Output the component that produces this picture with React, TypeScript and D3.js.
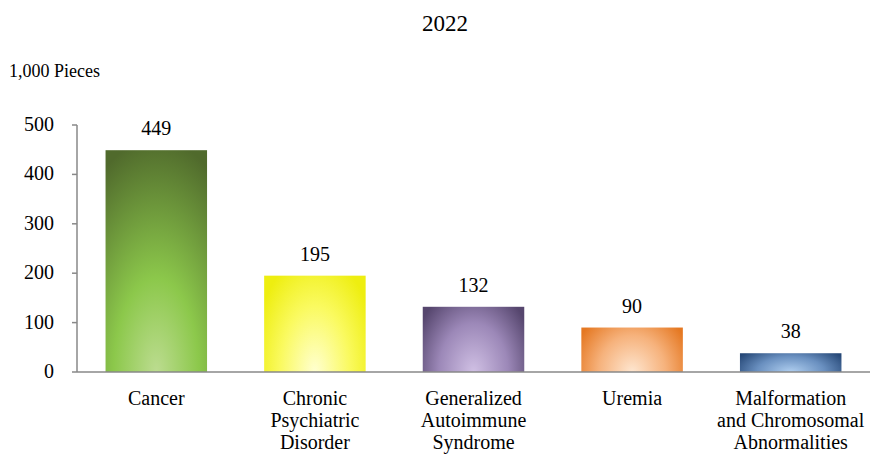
import React from "react";
import * as d3 from "d3";

const categories: string[][] = [
  ["Cancer"],
  ["Chronic", "Psychiatric", "Disorder"],
  ["Generalized", "Autoimmune", "Syndrome"],
  ["Uremia"],
  ["Malformation", "and Chromosomal", "Abnormalities"],
];
const values = [449, 195, 132, 90, 38];
const yTicks = [0, 100, 200, 300, 400, 500];
const gradients = [
  { stops: [["0%", "#bcdc90"], ["40%", "#8cc84b"], ["100%", "#506a2c"]], r: "1.05", sy: 1 },
  { stops: [["0%", "#ffffd0"], ["55%", "#fafa60"], ["100%", "#eeee10"]], r: "0.62", sy: 2 },
  { stops: [["0%", "#d0c0e4"], ["55%", "#9c88b8"], ["100%", "#56466e"]], r: "0.62", sy: 2.2 },
  { stops: [["0%", "#fee6d0"], ["55%", "#f6b27c"], ["100%", "#e57822"]], r: "0.6", sy: 2.5 },
  { stops: [["0%", "#b0cff0"], ["55%", "#6a90c0"], ["100%", "#264877"]], r: "0.6", sy: 2.5 },
];

const TS = { fontFamily: "'Liberation Serif', 'Times New Roman', serif" };

export default function App() {
  const W = 876, H = 457;
  const left = 77, right = 870, top = 125, bottom = 372;
  const x = d3.scaleBand<number>().domain(values.map((_, i) => i)).range([left, right]).paddingInner(0.36).paddingOuter(0.18);
  const y = d3.scaleLinear().domain([0, 500]).range([bottom, top]);
  return (
    <svg width={W} height={H} style={{ position: "absolute", left: 0, top: 0 }}>
      <defs>
        {gradients.map((g, i) => (
          <radialGradient key={i} id={`g${i}`} cx="0.5" cy="1" r={g.r} fx="0.5" fy="1"
            gradientTransform={`translate(0.5,1) scale(1,${g.sy}) translate(-0.5,-1)`}>
            {g.stops.map(([o, c]) => <stop key={o} offset={o} stopColor={c} />)}
          </radialGradient>
        ))}
      </defs>
      <text x={445} y={31} textAnchor="middle" fontSize={23} style={TS}>2022</text>
      <text x={9} y={77} fontSize={18} style={TS}>1,000 Pieces</text>
      {values.map((v, i) => (
        <g key={i}>
          <rect x={x(i)} y={y(v)} width={x.bandwidth()} height={bottom - y(v)} fill={`url(#g${i})`} />
          <text x={x(i)! + x.bandwidth() / 2} y={y(v) - 15} textAnchor="middle" fontSize={20} style={TS}>{v}</text>
          {categories[i].map((line, j) => (
            <text key={j} x={x(i)! + x.bandwidth() / 2} y={405 + j * 22} textAnchor="middle" fontSize={20} style={TS}>{line}</text>
          ))}
        </g>
      ))}
      <line x1={left} x2={left} y1={top} y2={bottom} stroke="#888" strokeWidth={1.5} />
      <line x1={left} x2={right} y1={bottom} y2={bottom} stroke="#888" strokeWidth={1.5} />
      {yTicks.map((t) => (
        <g key={t}>
          <line x1={left - 5} x2={left} y1={y(t)} y2={y(t)} stroke="#888" strokeWidth={1.5} />
          <text x={54} y={y(t) + 6} textAnchor="end" fontSize={20} style={TS}>{t}</text>
        </g>
      ))}
    </svg>
  );
}
